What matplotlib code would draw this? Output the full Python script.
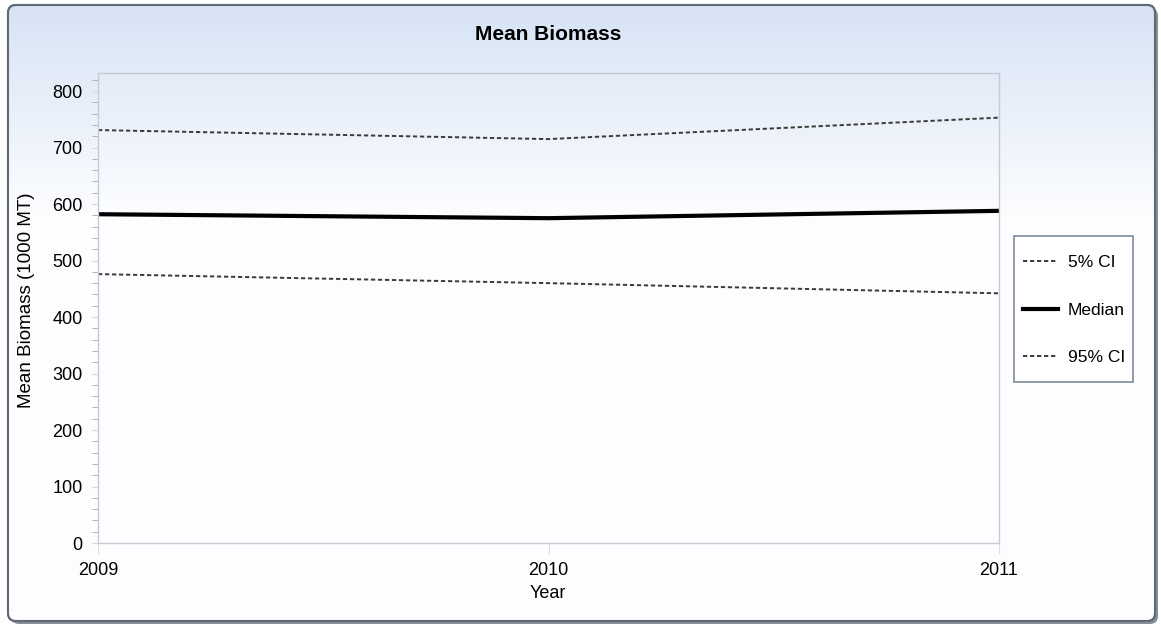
import matplotlib
matplotlib.use('Agg')
import matplotlib.pyplot as plt
import numpy as np
from matplotlib.patches import FancyBboxPatch, Rectangle

plt.rcParams['font.family'] = ['Liberation Sans', 'DejaVu Sans']

# data
years = [2009, 2010, 2011]
ci_5 = [476, 460, 442]
median = [582, 575, 588]
ci_95 = [731, 715, 753]
yticks = list(range(0, 801, 100))

W, H = 1161, 626
fig = plt.figure(figsize=(W / 100, H / 100), dpi=100)

# background panel with gradient + rounded frame
bg = fig.add_axes([0, 0, 1, 1])
bg.set_xlim(0, W)
bg.set_ylim(H, 0)
bg.axis('off')
shadow = FancyBboxPatch((11, 8), 1147, 616, boxstyle='round,pad=0,rounding_size=8',
                        facecolor='#8a8f95', edgecolor='none')
bg.add_patch(shadow)
panel = FancyBboxPatch((8, 5), 1147, 616, boxstyle='round,pad=0,rounding_size=8',
                       facecolor='white', edgecolor='#606a75', linewidth=1.5)
bg.add_patch(panel)
grad = np.linspace(0, 1, 256)
grad = np.clip(grad / 0.35, 0, 1)
top = np.array([0.84, 0.89, 0.96])
bot = np.array([0.995, 0.995, 1.0])
img = top[None, None, :] * (1 - grad[:, None, None]) + bot[None, None, :] * grad[:, None, None]
im = bg.imshow(img, extent=(8, 1155, 621, 5), aspect='auto', zorder=1)
im.set_clip_path(panel)
frame = FancyBboxPatch((8, 5), 1147, 616, boxstyle='round,pad=0,rounding_size=8',
                       facecolor='none', edgecolor='#606a75', linewidth=1.5, zorder=2)
bg.add_patch(frame)
# legend box
bg.add_patch(Rectangle((1014, 236), 119, 146, facecolor='white',
                       edgecolor='#7d8c9b', linewidth=1.2, zorder=3))

# main plot
ax = fig.add_axes([98 / W, (H - 543) / H, 901 / W, 470 / H])
ax.set_facecolor('none')
dash = (0, (2.2, 1.4))
l5, = ax.plot(years, ci_5, color='#3a3a3a', lw=1.4, linestyle=dash)
lm, = ax.plot(years, median, color='black', lw=3.0)
l95, = ax.plot(years, ci_95, color='#3a3a3a', lw=1.4, linestyle=dash)

ax.set_xlim(2009, 2011)
ax.set_ylim(0, 832)
ax.set_xticks(years)
ax.set_xticklabels([str(y) for y in years])
ax.set_yticks(yticks)
ax.set_yticks(range(0, 821, 20), minor=True)

for s in ax.spines.values():
    s.set_color('#c5cbd2')
    s.set_linewidth(1.0)

ax.tick_params(axis='y', which='major', length=4, color='#d8d8d8', labelsize=13, pad=7)
ax.tick_params(axis='y', which='minor', length=4, color='#a8a8a8')
ax.tick_params(axis='x', which='major', length=8, color='#dcdcdc', labelsize=13, pad=6)

fig.text(548 / W, 1 - 35 / H, 'Mean Biomass', ha='center', va='center',
         fontsize=15, fontweight='bold')
fig.text(548 / W, 1 - 594 / H, 'Year', ha='center', va='center', fontsize=13)
fig.text(27 / W, 1 - 300 / H, 'Mean Biomass (1000 MT)', ha='center', va='center',
         rotation=90, fontsize=13.5)

leg = fig.legend([l5, lm, l95], ['5% CI', 'Median', '95% CI'],
                 loc='center left', bbox_to_anchor=(1020 / W, 1 - 310 / H),
                 fontsize=12.5, frameon=False, borderpad=0.2,
                 labelspacing=1.85, handlelength=2.0, handletextpad=0.55,
                 borderaxespad=0)
leg.set_zorder(5)

fig.savefig('out.png', dpi=100)
